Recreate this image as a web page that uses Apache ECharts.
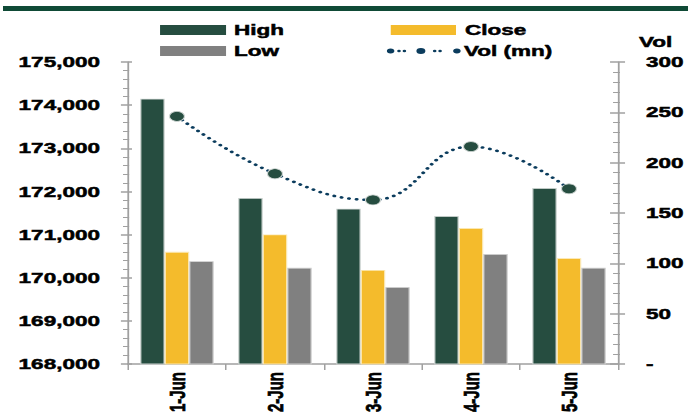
<!DOCTYPE html>
<html><head><meta charset="utf-8">
<script src="https://cdn.jsdelivr.net/npm/echarts@6/dist/echarts.min.js"></script>
<style>
html,body{margin:0;padding:0;background:#fff;overflow:hidden;width:688px;height:419px}
#c{width:459px;height:419px;transform:scaleX(1.5);transform-origin:0 0}
</style>
</head><body><div id="c"></div>
<script>
const categories = ['1-Jun','2-Jun','3-Jun','4-Jun','5-Jun'];
const high = [174150, 171850, 171600, 171430, 172080];
const close = [170600, 171000, 170180, 171150, 170450];
const low = [170380, 170230, 169780, 170550, 170230];
const vol = [246, 189, 163, 216, 174];
const leftTicks = {min:168000, max:175000, interval:1000};
const rightTicks = {min:0, max:300, interval:50};

// the reference image is stretched 1.5x horizontally; the chart is drawn narrow and stretched the same way
const FONT = 'Liberation Sans';
const txt = {fontFamily: FONT, fontWeight: 'bold', fontSize: 15, color: '#000', textBorderColor:'#000', textBorderWidth:0.5};
const axisGrey = '#a0a0a0';

function circ(x, y, r){ return `M${x-r} ${y}A${r} ${r} 0 1 0 ${x+r} ${y}A${r} ${r} 0 1 0 ${x-r} ${y}Z`; }
const volIcon = 'path://' + [circ(3.1,5,2.5), circ(8.7,5,1.2), circ(12.3,5,1.2), circ(23.3,5,3), circ(32.5,5,1.2), circ(36.1,5,1.2), circ(47.3,5,2.5), 'M0 0L0.01 0Z', 'M50 10L50.01 10Z'].join('');

const chart = echarts.init(document.getElementById('c'), null, {renderer:'svg'});
const fmtLeft = v => v.toLocaleString('en-US');
const baseY = (pos, t, extra) => Object.assign({
  type:'value', position: pos, min: t.min, max: t.max, interval: t.interval,
  splitLine:{show:false},
  axisLine:{show:true, lineStyle:{color:axisGrey, width:1.2}},
}, extra);
const legTxt = gap => Object.assign({}, txt, {lineHeight:18, padding:[0,0,0,gap-5]});

chart.setOption({
  animation:false,
  grid:{left:85.3, right:47, top:62, bottom:55},
  graphic:[{type:'rect', left:2, top:6, shape:{width:457, height:5}, style:{fill:'#0f4a36'}}],
  legend:[
    {left:106.7, top:21, padding:0, itemWidth:44, itemHeight:10, itemGap:0, textStyle:legTxt(5.3), data:[{name:'High', icon:'rect', itemStyle:{borderWidth:0}}], selectedMode:false},
    {left:260.5, top:21, padding:0, itemWidth:43.5, itemHeight:10, itemGap:0, textStyle:legTxt(6), data:[{name:'Close', icon:'rect', itemStyle:{borderWidth:0}}], selectedMode:false},
    {left:106.7, top:42, padding:0, itemWidth:44, itemHeight:10, itemGap:0, textStyle:legTxt(5.3), data:[{name:'Low', icon:'rect', itemStyle:{borderWidth:0}}], selectedMode:false},
    {left:257.3, top:42, padding:0, itemWidth:50, itemHeight:10, itemGap:0, textStyle:legTxt(2), data:[{name:'Vol (mn)', icon:volIcon, itemStyle:{color:'#0b3c5d', borderWidth:0}}], selectedMode:false}
  ],
  xAxis:{
    type:'category', data:categories, boundaryGap:true,
    axisLine:{lineStyle:{color:axisGrey, width:1.5}},
    axisTick:{show:true, length:6, lineStyle:{color:axisGrey, width:1}},
    axisLabel:Object.assign({}, txt, {rotate:90, margin:8})
  },
  yAxis:[
    baseY('left', leftTicks, {
      axisTick:{show:true, length:4.7, lineStyle:{color:axisGrey, width:1.5}},
      minorTick:{show:true, splitNumber:5, length:3.3, lineStyle:{color:axisGrey, width:1}},
      axisLabel:Object.assign({}, txt, {margin:18.7, formatter: fmtLeft})
    }),
    baseY('right', rightTicks, {
      name:'Vol', nameLocation:'end', nameGap:13,
      nameTextStyle:Object.assign({}, txt, {align:'left', padding:[0,0,0,14]}),
      axisTick:{show:true, length:4.7, lineStyle:{color:axisGrey, width:1.5}},
      minorTick:{show:true, splitNumber:5, length:1.3, lineStyle:{color:axisGrey, width:1}},
      axisLabel:Object.assign({}, txt, {margin:18.7, align:'left', formatter: v => v === 0 ? '-' : String(v)})
    }),
    baseY('left', leftTicks, {
      axisLine:{show:false},
      axisTick:{show:true, inside:true, length:2.7, lineStyle:{color:axisGrey, width:1.5}},
      minorTick:{show:true, splitNumber:5, length:0.8, lineStyle:{color:axisGrey, width:1}},
      axisLabel:{show:false}
    }),
    baseY('right', rightTicks, {
      axisLine:{show:false},
      axisTick:{show:true, inside:true, length:5.3, lineStyle:{color:axisGrey, width:1.5}},
      minorTick:{show:true, splitNumber:5, length:3.3, lineStyle:{color:axisGrey, width:1}},
      axisLabel:{show:false}
    })
  ],
  series:[
    {name:'High', type:'bar', data:high, yAxisIndex:0, barGap:'0%', barCategoryGap:'25%',
     itemStyle:{color:'#264d40', borderColor:'#cfd6d3', borderWidth:0.8}},
    {name:'Close', type:'bar', data:close, yAxisIndex:0,
     itemStyle:{color:'#f4bb2c', borderColor:'#fbe7b0', borderWidth:0.8}},
    {name:'Low', type:'bar', data:low, yAxisIndex:0,
     itemStyle:{color:'#808080', borderColor:'#d0d0d0', borderWidth:0.8}},
    {name:'Vol (mn)', type:'line', data:vol, yAxisIndex:1, smooth:0.45, z:5,
     symbol:'circle', symbolSize:10,
     itemStyle:{color:'#264d40', borderColor:'#cfd6d3', borderWidth:0.8},
     lineStyle:{color:'#0b3c5d', width:2.6, type:[0.1,5], cap:'round'}}
  ]
});
</script></body></html>
